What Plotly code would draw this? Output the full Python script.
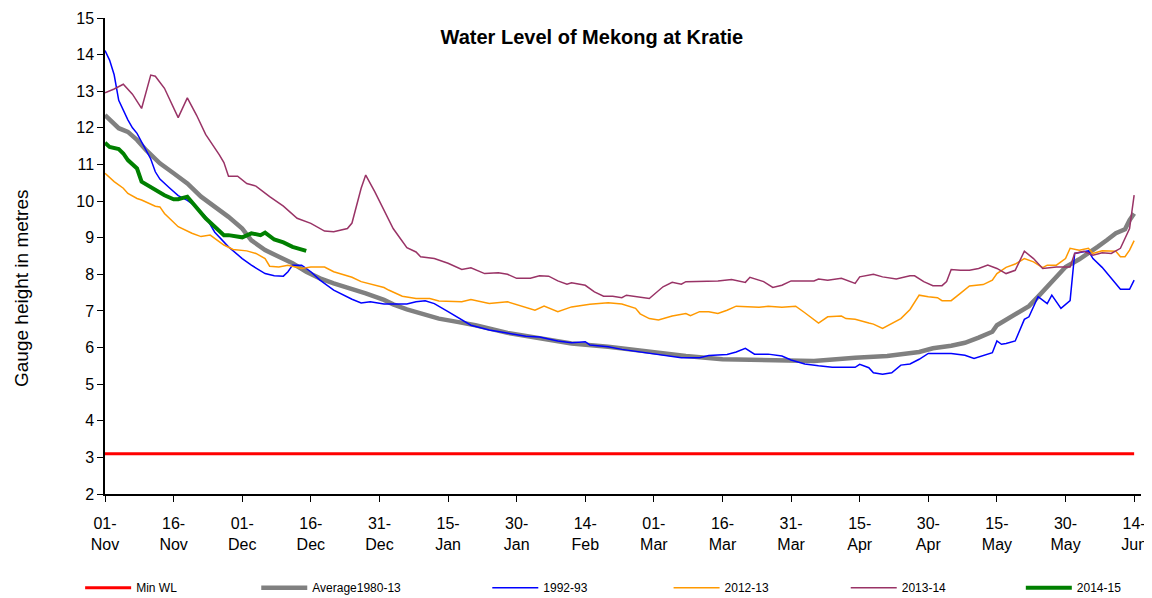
import pandas as pd
import plotly.graph_objects as go

# season starts 01-Nov; x values are day offsets from that date
season_start = pd.Timestamp('2013-11-01')

min_wl_days = [0, 225]
min_wl = [3.1, 3.1]

avg_days = [0, 3, 5, 7, 9, 12, 15, 18, 21, 24, 27, 30, 32, 35, 38, 41, 44, 47, 50,
            54, 57, 61, 63, 66, 70, 73, 77, 81, 88, 95, 102, 110, 117, 120, 127, 135,
            142, 149, 155, 164, 171, 178, 181, 185, 188, 191, 194, 195, 197, 199, 202,
            204, 206, 208, 210, 213, 215, 217, 219, 221, 223, 224, 225]
avg = [12.35, 11.99, 11.89, 11.67, 11.39, 11.03, 10.76, 10.48, 10.12, 9.84, 9.57, 9.25,
       8.93, 8.66, 8.48, 8.30, 8.07, 7.89, 7.75, 7.61, 7.48, 7.30, 7.18, 7.04, 6.91,
       6.79, 6.70, 6.61, 6.40, 6.25, 6.11, 6.02, 5.91, 5.86, 5.77, 5.68, 5.66, 5.66,
       5.63, 5.72, 5.77, 5.88, 5.98, 6.05, 6.13, 6.27, 6.43, 6.61, 6.75, 6.91, 7.13,
       7.39, 7.66, 7.95, 8.20, 8.41, 8.57, 8.75, 8.93, 9.12, 9.23, 9.48, 9.66]

y9293_days = [0, 1, 2, 3, 5, 6, 7, 8, 10, 11, 12, 14, 16, 18, 20, 22, 24, 27, 30, 32,
              35, 37, 39, 40, 41, 43, 45, 47, 50, 54, 56, 58, 61, 66, 68, 70, 72, 75,
              78, 80, 84, 88, 92, 95, 99, 102, 105, 106, 110, 113, 117, 121, 126, 130,
              132, 136, 138, 140, 142, 145, 148, 150, 153, 156, 159, 164, 165, 167, 168,
              170, 172, 174, 176, 178, 180, 185, 188, 190, 192, 194, 195, 196, 197, 199,
              201, 202, 204, 206, 207, 209, 211, 212, 215, 216, 218, 220, 222, 224, 225]
y9293 = [14.11, 13.85, 13.45, 12.75, 12.22, 12.00, 11.85, 11.62, 11.15, 10.80, 10.60,
         10.37, 10.15, 10.02, 9.84, 9.57, 9.15, 8.75, 8.43, 8.25, 8.02, 7.96, 7.95, 8.07,
         8.25, 8.25, 8.07, 7.84, 7.57, 7.32, 7.22, 7.25, 7.19, 7.19, 7.25, 7.28, 7.20,
         6.98, 6.77, 6.61, 6.48, 6.40, 6.31, 6.29, 6.18, 6.13, 6.16, 6.07, 6.02, 5.95,
         5.88, 5.81, 5.72, 5.72, 5.78, 5.81, 5.88, 5.98, 5.82, 5.82, 5.77, 5.66, 5.55,
         5.50, 5.46, 5.46, 5.54, 5.45, 5.31, 5.27, 5.31, 5.52, 5.55, 5.68, 5.84, 5.84,
         5.79, 5.70, 5.79, 5.86, 6.18, 6.09, 6.11, 6.18, 6.77, 6.84, 7.39, 7.20, 7.43,
         7.07, 7.28, 8.57, 8.64, 8.43, 8.19, 7.89, 7.59, 7.59, 7.84]

y1213_days = [0, 2, 4, 5, 7, 8, 11, 12, 13, 15, 16, 19, 21, 23, 24, 26, 28, 31, 33, 35,
              36, 38, 40, 43, 45, 48, 50, 54, 56, 58, 61, 62, 65, 68, 71, 73, 78, 80, 84,
              88, 91, 94, 96, 99, 102, 106, 110, 113, 116, 117, 119, 121, 124, 127, 128,
              130, 132, 134, 136, 138, 143, 145, 148, 151, 153, 156, 158, 161, 162, 164,
              167, 168, 170, 172, 174, 176, 178, 180, 182, 183, 185, 187, 189, 192, 194,
              195, 197, 199, 201, 203, 205, 206, 208, 210, 211, 213, 215, 216, 218, 221,
              222, 223, 224, 225]
y1213 = [10.76, 10.53, 10.35, 10.21, 10.07, 10.03, 9.86, 9.84, 9.66, 9.43, 9.30, 9.12,
         9.03, 9.07, 8.98, 8.80, 8.68, 8.64, 8.57, 8.43, 8.22, 8.20, 8.25, 8.16, 8.20,
         8.20, 8.07, 7.92, 7.80, 7.73, 7.64, 7.57, 7.40, 7.34, 7.34, 7.27, 7.25, 7.31,
         7.20, 7.25, 7.14, 7.02, 7.13, 6.98, 7.11, 7.18, 7.22, 7.19, 7.07, 6.92, 6.79,
         6.75, 6.86, 6.93, 6.87, 6.98, 6.98, 6.93, 7.02, 7.13, 7.10, 7.13, 7.10, 7.13,
         6.95, 6.67, 6.84, 6.86, 6.79, 6.77, 6.67, 6.64, 6.52, 6.66, 6.79, 7.04, 7.43,
         7.39, 7.36, 7.28, 7.28, 7.48, 7.68, 7.72, 7.84, 8.02, 8.19, 8.28, 8.43, 8.34,
         8.18, 8.25, 8.25, 8.43, 8.71, 8.66, 8.71, 8.57, 8.64, 8.63, 8.48, 8.48, 8.66, 8.92]

y1314_days = [0, 2, 4, 6, 8, 10, 11, 13, 16, 18, 20, 22, 25, 26, 27, 29, 31, 33, 36, 39,
              42, 45, 48, 50, 53, 54, 56, 57, 59, 61, 63, 66, 68, 69, 72, 75, 78, 80, 83,
              86, 88, 90, 93, 95, 97, 99, 101, 102, 105, 107, 109, 111, 113, 114, 116,
              119, 122, 124, 126, 127, 134, 137, 140, 141, 144, 146, 148, 150, 155, 156,
              158, 161, 164, 165, 168, 170, 173, 176, 177, 179, 181, 183, 184, 185, 187,
              189, 191, 193, 195, 197, 199, 201, 203, 205, 208, 211, 212, 214, 216, 218,
              220, 222, 224, 225]
y1314 = [12.96, 13.06, 13.19, 12.92, 12.53, 13.44, 13.41, 13.08, 12.28, 12.82, 12.35,
         11.82, 11.26, 11.05, 10.68, 10.68, 10.48, 10.41, 10.12, 9.86, 9.53, 9.39, 9.18,
         9.16, 9.25, 9.40, 10.35, 10.71, 10.25, 9.75, 9.25, 8.73, 8.61, 8.48, 8.43, 8.30,
         8.13, 8.18, 8.02, 8.04, 8.00, 7.89, 7.89, 7.96, 7.95, 7.82, 7.73, 7.77, 7.70,
         7.52, 7.40, 7.40, 7.36, 7.43, 7.39, 7.34, 7.66, 7.78, 7.73, 7.80, 7.82, 7.86,
         7.78, 7.92, 7.80, 7.64, 7.70, 7.82, 7.82, 7.87, 7.84, 7.89, 7.75, 7.93, 8.00,
         7.93, 7.87, 7.96, 7.96, 7.80, 7.69, 7.69, 7.80, 8.13, 8.11, 8.11, 8.16, 8.25,
         8.16, 8.02, 8.11, 8.63, 8.43, 8.16, 8.20, 8.20, 8.57, 8.63, 8.52, 8.59, 8.57,
         8.71, 9.25, 10.16]

y1415_days = [0, 1, 3, 4, 5, 7, 8, 10, 11, 13, 15, 16, 18, 20, 22, 24, 26, 27, 30, 32,
              34, 35, 37, 39, 41, 44]
y1415 = [11.59, 11.48, 11.42, 11.30, 11.12, 10.89, 10.53, 10.37, 10.30, 10.16, 10.05,
         10.05, 10.12, 9.84, 9.53, 9.30, 9.07, 9.07, 9.01, 9.12, 9.07, 9.14, 8.95, 8.87,
         8.75, 8.64]


def to_dates(days):
    return season_start + pd.to_timedelta(days, unit='D')


FONT = 'Liberation Sans, Arial, sans-serif'

series = [
    ('Min WL', min_wl_days, min_wl, '#FF0000', 3),
    ('Average1980-13', avg_days, avg, '#808080', 4.5),
    ('1992-93', y9293_days, y9293, '#0000FF', 1.5),
    ('2012-13', y1213_days, y1213, '#FF9900', 1.5),
    ('2013-14', y1314_days, y1314, '#993366', 1.5),
    ('2014-15', y1415_days, y1415, '#008000', 4),
]
# left edge of each legend entry, in paper units
legend_x = [-0.024, 0.146, 0.369, 0.544, 0.715, 0.884]

fig = go.Figure()
legend_layout = {}
for i, (name, days, vals, color, width) in enumerate(series):
    key = 'legend' if i == 0 else 'legend%d' % (i + 1)
    fig.add_trace(go.Scatter(
        x=to_dates(days), y=vals, mode='lines', name=name,
        line=dict(color=color, width=width), legend=key))
    legend_layout[key] = dict(
        x=legend_x[i], y=-0.197, xanchor='left', yanchor='middle',
        orientation='h', itemwidth=46, bgcolor='rgba(0,0,0,0)',
        font=dict(family=FONT, size=12, color='black'))

# the page body has an 8px margin, so the figure is 8px smaller than the window
fig.update_layout(
    width=1144, height=590,
    margin=dict(l=97, r=11, t=10, b=104, autoexpand=False),
    paper_bgcolor='white', plot_bgcolor='white',
    font=dict(family=FONT, color='black'),
    title=dict(text='<b>Water Level of Mekong at Kratie</b>',
               x=0.47, xref='paper', xanchor='center',
               y=0.951, yref='container', yanchor='middle',
               font=dict(family=FONT, size=20, color='black')),
    showlegend=True,
    **legend_layout)

fig.update_xaxes(
    type='date', automargin=False,
    range=[season_start, season_start + pd.Timedelta(days=226.5)],
    tick0=season_start, dtick=15 * 86400000, tickformat='%d-<br>%b',
    showline=True, linecolor='black', linewidth=1.5,
    ticks='outside', ticklen=6, tickcolor='black', ticklabelstandoff=8,
    showgrid=False, zeroline=False,
    tickfont=dict(family=FONT, size=16, color='black'))
fig.update_yaxes(
    range=[2, 15], dtick=1, automargin=False,
    showline=True, linecolor='black', linewidth=1.5,
    ticks='outside', ticklen=6, tickcolor='black',
    showgrid=False, zeroline=False,
    tickfont=dict(family=FONT, size=16, color='black'))

fig.add_annotation(
    text='Gauge height in metres', x=-0.080, y=0.433,
    xref='paper', yref='paper', textangle=-90, showarrow=False,
    xanchor='center', yanchor='middle',
    font=dict(family=FONT, size=19, color='black'))

fig.write_html('out.html')
